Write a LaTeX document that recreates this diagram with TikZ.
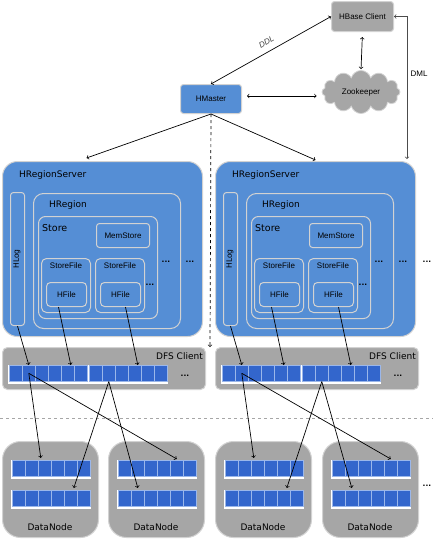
\documentclass[tikz,border=0pt]{standalone}
\usepackage{fontspec}
\setmainfont{DejaVu Sans}
\newfontfamily\arialfont{Liberation Sans}
\usetikzlibrary{positioning,shapes.symbols,arrows}

\definecolor{srvblue}{HTML}{558ED5}
\definecolor{blkblue}{HTML}{3366CC}
\definecolor{blkedge}{HTML}{9BB7EA}
\definecolor{boxgray}{HTML}{A6A6A6}
\definecolor{rim}{HTML}{D2D2D2}

\newcommand{\blockrow}[3]{%
	\fill[white] (#2-1,#3) rectangle (#2+79,#3+19);
	\foreach \j in {1,...,6}
		\node[blk] (#1-\j) at ({#2+(\j-1)*13},#3) {};
}

\begin{document}
\begin{tikzpicture}[x=1pt, y=-1pt,
		srv/.style={draw=rim, fill=srvblue, line width=1pt, inner sep=0pt, anchor=north west},
		graybox/.style={draw=rim, fill=boxgray, line width=1pt, inner sep=0pt, anchor=north west},
		blk/.style={draw=blkedge, fill=blkblue, line width=0.6pt, minimum width=13pt, minimum height=16pt, inner sep=0pt, anchor=north west},
		title/.style={anchor=west, inner sep=0pt, font=\fontsize{9}{10}\selectfont},
		small/.style={inner sep=0pt, font=\arialfont\fontsize{8}{9}\selectfont},
		dots/.style={inner sep=0pt, font=\bfseries\fontsize{7.5}{8}\selectfont},
		link/.style={line width=0.7pt}
]

\fill[white] (0,0) rectangle (439,541);
\useasboundingbox (0,0) rectangle (439,541);

\node [graybox, rounded corners=3pt, minimum width=62pt, minimum height=30pt, font=\arialfont\fontsize{8}{9}\selectfont] (Client) at (331,1) {HBase Client};
\node [cloud, cloud puffs=12, aspect=1.8, draw=rim, fill=boxgray, line width=0.8pt, minimum width=78pt, minimum height=43pt, inner sep=0pt, font=\arialfont\fontsize{8}{9}\selectfont] (Zk) at (361,92) {Zookeeper};
\node [srv, rounded corners=3pt, minimum width=61pt, minimum height=29pt, font=\arialfont\fontsize{8}{9}\selectfont] (Master) at (180,84) {HMaster};

\foreach \s/\dx in {L/0,R/213}{
	\begin{scope}[xshift=\dx]
		\node [srv, rounded corners=15pt, minimum width=200pt, minimum height=175pt] (server\s) at (2,161) {};
		\node [title] (srvtitle\s) at (19,175) {HRegionServer};
		\node [srv, rounded corners=3pt, minimum width=14pt, minimum height=133pt] (hlog\s) at (10,192) {};
		\node [small, rotate=90, font=\fontsize{7.5}{8}\selectfont] (hlogtext\s) at (17,259) {HLog};
		\node [srv, rounded corners=10pt, minimum width=147pt, minimum height=135pt] (region\s) at (33,193) {};
		\node [title] (regiontitle\s) at (49,205) {HRegion};
		\node [srv, rounded corners=7pt, minimum width=119pt, minimum height=102pt] (store\s) at (38,216) {};
		\node [title, font=\fontsize{9.5}{10}\selectfont] (storetitle\s) at (42,228) {Store};
		\node [srv, rounded corners=3pt, minimum width=53pt, minimum height=24pt, font=\arialfont\fontsize{8}{9}\selectfont] (memstore\s) at (96,223) {MemStore};
		\foreach \f/\fx in {1/41,2/95}{
			\node [srv, rounded corners=5pt, minimum width=49pt, minimum height=54pt] (storefile\s\f) at (\fx,258) {};
			\node [small] (sftext\s\f) at (\fx+25,266) {StoreFile};
			\node [srv, rounded corners=4pt, minimum width=40pt, minimum height=24pt, font=\arialfont\fontsize{8}{9}\selectfont] (hfile\s\f) at (\fx+5,282) {HFile};
		}
		\node [dots] (dotsA\s) at (150,285) {...};
		\node [dots] (dotsB\s) at (166,262) {...};
		\node [dots] (dotsC\s) at (190,262) {...};

		\node [graybox, rounded corners=5pt, minimum width=203pt, minimum height=42pt] (dfs\s) at (2,347) {};
		\node [anchor=east, inner sep=0pt, font=\fontsize{9}{10}\selectfont] (dfstext\s) at (203,356) {DFS Client};
		\blockrow{dfs\s1}{9}{365}
		\blockrow{dfs\s2}{89}{365}
		\node [dots] (dotsD\s) at (185,376) {...};
	\end{scope}
}
\node [dots] (dotsE) at (427,262) {...};

\draw [gray!70, dashed, line width=0.5pt] (0,418) -- (433,418);

\foreach \n/\x in {1/2,2/108,3/215,4/322}{
	\node [graybox, rounded corners=18pt, minimum width=96pt, minimum height=96pt] (dn\n) at (\x,441) {};
	\blockrow{dnA\n}{\x+10}{460}
	\blockrow{dnB\n}{\x+10}{490}
	\node [inner sep=0pt, font=\fontsize{9}{10}\selectfont] (dntext\n) at (\x+48,527) {DataNode};
}
\node [dots] (dotsF) at (427,486) {...};

\coordinate (gap) at (210,347);

\draw [link, <->] (Master.north) -- node [above=3pt, sloped, font=\arialfont\itshape\fontsize{8}{9}\selectfont, text=black!75] {DDL} (Client.west);
\draw [link, <->, shorten <=5pt, shorten >=1pt] (Client.south) -- (Zk.north);
\draw [link, <->, shorten <=5pt, shorten >=5pt] ([yshift=3pt]Master.east) -- ([yshift=3pt]Master.east -| Zk.west);
\draw [link, <->, black!70] (Client.east) -| node [pos=0.7, right, black, font=\arialfont\fontsize{8}{9}\selectfont] {DML} ([xshift=-9pt, yshift=2pt]serverR.north east);
\draw [link, ->] (Master.south) -- ([xshift=-16pt, yshift=3pt]serverL.north);
\draw [link, ->] (Master.south) -- ([yshift=1pt]serverR.north);
\draw [link, ->, dashed] (Master.south) -- (gap);

\foreach \s/\p/\q in {L/1/2,R/3/4}{
	\draw [link, ->] (hlog\s.south) -- (dfs\s1-2.north);
	\draw [link, ->] ([xshift=-8pt]hfile\s1.south) -- ([xshift=3pt]dfs\s1-5.north);
	\draw [link, ->] ([xshift=5pt]hfile\s2.south) -- ([xshift=3pt]dfs\s2-4.north);
	\draw [link, ->] (dfs\s1-2.center) -- ([xshift=-4pt, yshift=2pt]dnA\p-3.north);
	\draw [link, ->] (dfs\s1-2.center) -- ([yshift=1pt]dnA\q-5.north);
	\draw [link, ->] (dfs\s2-2.south) -- ([xshift=3pt, yshift=2pt]dnB\p-5.north);
	\draw [link, ->] (dfs\s2-2.south) -- ([yshift=2pt]dnB\q-2.north);
}

\end{tikzpicture}
\end{document}
